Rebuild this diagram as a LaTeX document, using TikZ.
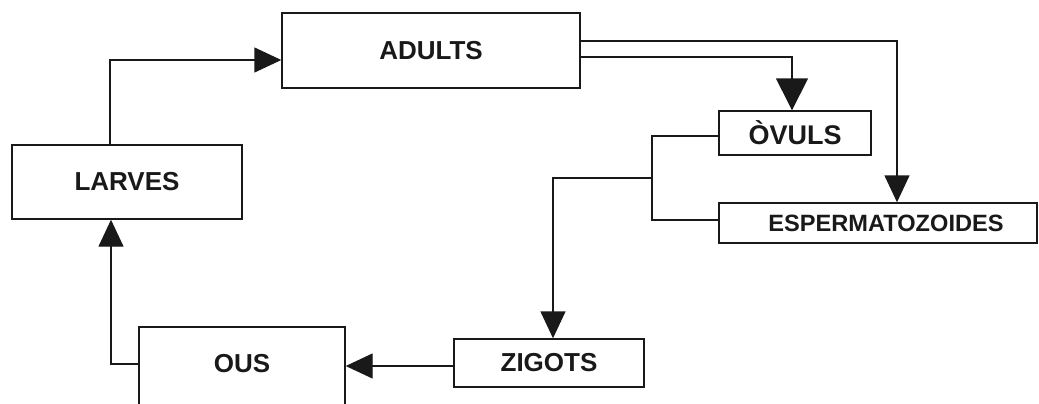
\documentclass[tikz,border=0pt]{standalone}
\usepackage{fontspec}
\setmainfont{Liberation Sans}
\usepackage{tikz}
\usetikzlibrary{positioning}
\usetikzlibrary{shapes,arrows.meta}
\tikzstyle{block} = [rectangle, draw, line width=0.7pt, inner sep=0pt,
    font=\fontsize{13}{15}\selectfont\bfseries, text centered]
\tikzstyle{line} = [draw, line width=0.7pt, -{Triangle[length=13.5pt,width=12.5pt]}]
\tikzstyle{wire} = [draw, line width=0.7pt]

\begin{document}
\begin{tikzpicture}[x=0.5pt, y=-0.5pt, black!90]
    \clip (0,0) rectangle (1039,403);
    % Place nodes
    \node [block, minimum width=149pt, minimum height=37.5pt] (adults) at (431,50.5) {ADULTS};
    \node [block, minimum width=115pt, minimum height=37pt] (larves) at (127,182) {LARVES};
    \node [block, minimum width=76pt, minimum height=22pt,
        font=\fontsize{13.5}{15}\selectfont\bfseries] (ovuls) at (795,133) {ÒVULS};
    \node [block, minimum width=159pt, minimum height=20pt,
        font=\fontsize{11.8}{14}\selectfont\bfseries] (esperm) at (878,223) {\hspace*{8pt}ESPERMATOZOIDES};
    \node [block, minimum width=95pt, minimum height=24pt] (zigots) at (549,363) {ZIGOTS};
    \node [block, minimum width=103pt, minimum height=43pt, text depth=7pt] (ous) at (242,370) {OUS};
    \coordinate (join) at (652,178);
    % arrows
    \path [line] ([xshift=-8.5pt]larves.north) |- ([yshift=-4.75pt]adults.west);
    \path [line] ([yshift=4.75pt]adults.east) -| ([xshift=9.5pt]esperm.north);
    \path [line, -{Triangle[length=16pt,width=16pt]}] ([yshift=-3.25pt]adults.east) -| ([xshift=-1.5pt]ovuls.north);
    \path [wire] ([yshift=-1.5pt]ovuls.west) -| (join) |- ([yshift=1.5pt]esperm.west);
    \path [line] (join) -| ([xshift=2pt]zigots.north);
    \path [line] ([yshift=-1.5pt]zigots.west) -- ([yshift=-1.5pt]ous.east |- zigots.west);
    \path [line] ([yshift=3pt]ous.west) -| ([xshift=-8pt]larves.south);
\end{tikzpicture}
\end{document}
